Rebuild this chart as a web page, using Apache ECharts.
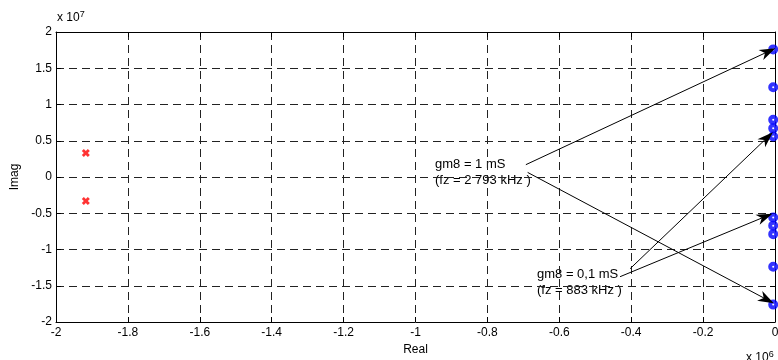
<!DOCTYPE html>
<html>
<head>
<meta charset="utf-8">
<script src="https://cdn.jsdelivr.net/npm/echarts@6/dist/echarts.min.js"></script>
<style>
  html, body { margin: 0; padding: 0; background: #fff; }
  #chart { width: 778px; height: 360px; }
</style>
</head>
<body>
<div id="chart"></div>
<script>
// Pole/zero map: poles (red x) and zeros (blue o) in the complex plane
const poleRe = [-1.917e6, -1.917e6];
const poleIm = [0.33e7, -0.33e7];
const zeroRe = [-5000, -5000, -5000, -5000, -5000, -5000, -5000, -5000, -5000, -5000];
const zeroIm = [1.76e7, 1.237e7, 0.788e7, 0.671e7, 0.558e7, -0.558e7, -0.671e7, -0.788e7, -1.237e7, -1.76e7];

// Annotation arrows (data coordinates): start -> end
const arrowFrom = [[-0.693e6, 0.17e7], [-0.688e6, 0.063e7], [-0.403e6, -1.265e7], [-0.431e6, -1.375e7]];
const arrowTo   = [[-0.019e6, 1.73e7], [-0.023e6, -1.69e7], [-0.022e6, 0.542e7], [-0.028e6, -0.548e7]];

const xTicks = { min: -2e6, max: 0, interval: 0.2e6 };
const yTicks = { min: -2e7, max: 2e7, interval: 0.5e7 };

const FONT = 'Liberation Sans, Arial, sans-serif';
const poles = poleRe.map((r, i) => [r, poleIm[i]]);
const zeros = zeroRe.map((r, i) => [r, zeroIm[i]]);
const arrows = arrowFrom.map((a, i) => [{ coord: a }, { coord: arrowTo[i] }]);

const gridDash = { color: '#222', width: 1, type: [8, 5] };
const tickIn = { show: true, inside: true, length: 5, lineStyle: { color: '#000' } };
const axisLn = { show: true, onZero: false, lineStyle: { color: '#000', width: 1 } };

const chart = echarts.init(document.getElementById('chart'), null, { renderer: 'canvas' });
chart.setOption({
  animation: false,
  backgroundColor: '#fff',
  grid: { left: 56, right: 3, top: 32, bottom: 38, outerBoundsMode: 'none', containLabel: false },
  xAxis: [{
    type: 'value', position: 'bottom', ...xTicks,
    axisLine: axisLn, axisTick: tickIn,
    axisLabel: { margin: 5, color: '#000', fontSize: 12, fontFamily: FONT,
      formatter: v => String(Math.round(v / 1e5) / 10) },
    splitLine: { show: true, lineStyle: gridDash },
    name: 'Real', nameLocation: 'middle', nameGap: 22,
    nameTextStyle: { color: '#000', fontSize: 12, fontFamily: FONT }
  }, {
    type: 'value', position: 'top', ...xTicks,
    axisLine: axisLn, axisTick: tickIn, axisLabel: { show: false }, splitLine: { show: false }
  }],
  yAxis: [{
    type: 'value', position: 'left', ...yTicks,
    axisLine: axisLn, axisTick: tickIn,
    axisLabel: { margin: 4, color: '#000', fontSize: 12, fontFamily: FONT,
      formatter: v => String(Math.round(v / 1e6) / 10) },
    splitLine: { show: true, lineStyle: gridDash },
    name: 'Imag', nameLocation: 'middle', nameGap: 34, nameRotate: 90,
    nameTextStyle: { color: '#000', fontSize: 12, fontFamily: FONT }
  }, {
    type: 'value', position: 'right', ...yTicks,
    axisLine: axisLn, axisTick: tickIn, axisLabel: { show: false }, splitLine: { show: false }
  }],
  series: [{
    type: 'scatter', name: 'poles', data: poles, clip: false,
    symbol: 'path://M0,2.5 L2.5,0 L5,2.5 L7.5,0 L10,2.5 L7.5,5 L10,7.5 L7.5,10 L5,7.5 L2.5,10 L0,7.5 L2.5,5 Z',
    symbolSize: 8,
    itemStyle: { color: '#ff0000' }
  }, {
    type: 'scatter', name: 'zeros', data: zeros, clip: false,
    symbol: 'circle', symbolSize: 6,
    itemStyle: { color: '#fff', borderColor: '#0000ff', borderWidth: 4 },
    markLine: {
      silent: true, animation: false,
      symbol: ['none', 'path://M5,0 L10,14 L5,10 L0,14 Z'],
      symbolSize: [11, 16],
      label: { show: false },
      lineStyle: { color: '#000', width: 1, type: 'solid' },
      emphasis: { disabled: true },
      data: arrows
    }
  }],
  graphic: [
    { type: 'text', left: 57, top: 10, style: { rich: {
        a: { fontSize: 12, fontFamily: FONT, fill: '#000' },
        s: { fontSize: 9, fontFamily: FONT, fill: '#000', padding: [0, 0, 6, 0] } },
      text: '{a|x 10}{s|7}' } },
    { type: 'text', left: 746, top: 350, style: { rich: {
        a: { fontSize: 12, fontFamily: FONT, fill: '#000' },
        s: { fontSize: 9, fontFamily: FONT, fill: '#000', padding: [0, 0, 6, 0] } },
      text: '{a|x 10}{s|6}' } },
    { type: 'text', left: 435, top: 158, style: { text: 'gm8 = 1 mS', font: '13px ' + FONT, fill: '#000' } },
    { type: 'text', left: 435, top: 174, style: { text: '(fz = 2 793 kHz )', font: '13px ' + FONT, fill: '#000' } },
    { type: 'text', left: 537, top: 268, style: { text: 'gm8 = 0,1 mS', font: '13px ' + FONT, fill: '#000' } },
    { type: 'text', left: 537, top: 284, style: { text: '(fz = 883 kHz )', font: '13px ' + FONT, fill: '#000' } }
  ]
});
</script>
</body>
</html>
